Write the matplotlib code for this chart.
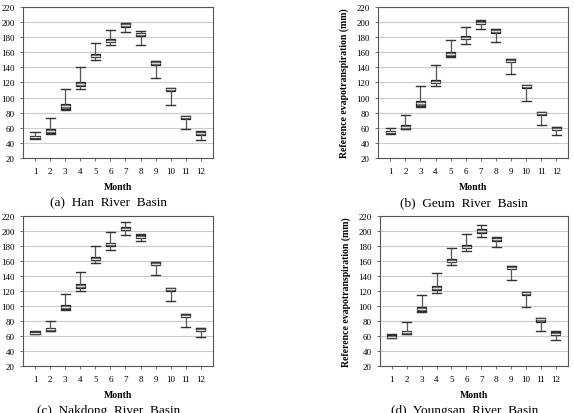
import matplotlib
matplotlib.use("Agg")
import matplotlib.pyplot as plt

plt.rcParams['font.family'] = ['Liberation Serif', 'DejaVu Serif']

months = [str(m) for m in range(1, 13)]

# Han River Basin
han_lo = [45, 52, 84, 111, 150, 169, 187, 170, 126, 90, 58, 44]
han_q1 = [46, 53, 85, 115, 153, 173, 193, 181, 143, 109, 72, 51]
han_med = [47.5, 56, 89, 118, 155, 175, 196, 184, 146, 111, 74, 53]
han_q3 = [49, 58, 92, 120, 158, 178, 199, 186, 148, 113, 76, 55]
han_hi = [54, 73, 111, 140, 172, 190, 199, 188, 148, 113, 76, 56]

# Geum River Basin
geum_lo = [52, 58, 88, 115, 153, 171, 191, 174, 131, 95, 63, 51]
geum_q1 = [52.5, 59, 89, 119, 155, 177, 197, 186, 147, 113, 77, 57]
geum_med = [54, 61, 93, 121, 158, 179, 199, 188, 149, 115, 79, 59]
geum_q3 = [56, 63, 96, 123, 160, 181, 201, 191, 151, 117, 81, 61]
geum_hi = [60, 77, 115, 143, 176, 194, 202, 191, 151, 117, 81, 61]

# Nakdong River Basin
nak_lo = [62, 66, 95, 120, 157, 175, 194, 186, 141, 106, 72, 59]
nak_q1 = [62.5, 67, 96, 124, 161, 180, 201, 190, 154, 120, 85, 66]
nak_med = [64, 69, 99, 127, 163, 182, 203, 192, 156, 122, 87, 68]
nak_q3 = [65.5, 71, 101, 129, 165, 184, 205, 195, 158, 124, 89, 70]
nak_hi = [66, 80, 116, 145, 180, 198, 212, 196, 158, 124, 89, 71]

# Youngsan River Basin
young_lo = [57, 62, 92, 117, 155, 173, 192, 179, 135, 99, 67, 54]
young_q1 = [57, 63, 93, 121, 158, 177, 197, 187, 149, 114, 79, 61]
young_med = [59, 65, 96, 124, 160, 179, 200, 189, 151, 117, 82, 63]
young_q3 = [61, 67, 99, 126, 162, 181, 202, 191, 153, 119, 84, 65]
young_hi = [62, 78, 114, 144, 177, 196, 208, 192, 153, 119, 84, 66]

panels = [
    ("(a)  Han  River  Basin", han_lo, han_q1, han_med, han_q3, han_hi),
    ("(b)  Geum  River  Basin", geum_lo, geum_q1, geum_med, geum_q3, geum_hi),
    ("(c)  Nakdong  River  Basin", nak_lo, nak_q1, nak_med, nak_q3, nak_hi),
    ("(d)  Youngsan  River  Basin", young_lo, young_q1, young_med, young_q3, young_hi),
]

# axes rectangles and caption heights (figure fractions)
positions = [
    [0.040, 0.616, 0.331, 0.365],
    [0.659, 0.616, 0.331, 0.365],
    [0.040, 0.114, 0.331, 0.362],
    [0.662, 0.114, 0.327, 0.362],
]
caption_y = [0.510, 0.510, 0.008, 0.008]

fig = plt.figure(figsize=(5.74, 4.14), dpi=100)

for (title, lo, q1, med, q3, hi), pos, cy in zip(panels, positions, caption_y):
    ax = fig.add_axes(pos)
    stats = []
    for i in range(12):
        stats.append({'whislo': lo[i], 'q1': q1[i], 'med': med[i],
                      'q3': q3[i], 'whishi': hi[i], 'label': months[i]})
    ax.bxp(stats, widths=0.6, showfliers=False, patch_artist=True,
           boxprops=dict(facecolor='#6e6e6e', edgecolor='#222222', linewidth=0.9),
           medianprops=dict(color='#d8d8d8', linewidth=0.9),
           whiskerprops=dict(color='#555555', linewidth=0.9),
           capprops=dict(color='#333333', linewidth=1.0),
           capwidths=0.6)
    ax.set_ylim(20, 220)
    ax.set_yticks(range(20, 221, 20))
    ax.set_xlim(0.2, 12.8)
    ax.yaxis.grid(True, color='#cccccc', linewidth=0.8)
    ax.set_axisbelow(True)
    for s in ax.spines.values():
        s.set_color('#555555')
        s.set_linewidth(0.8)
    ax.tick_params(labelsize=6.5, length=2.5, width=0.6, color='#555555')
    ax.tick_params(axis='x', pad=4)
    ax.set_xlabel('Month', fontsize=7, fontweight='bold', labelpad=5)
    ax.set_ylabel('Reference evapotranspiration (mm)', fontsize=7,
                  fontweight='bold', labelpad=5)
    x0 = pos[0] + pos[2] / 2 - 0.016
    fig.text(x0, cy, title, ha='center', va='center', fontsize=9.5)

fig.savefig('out.png', dpi=100)
